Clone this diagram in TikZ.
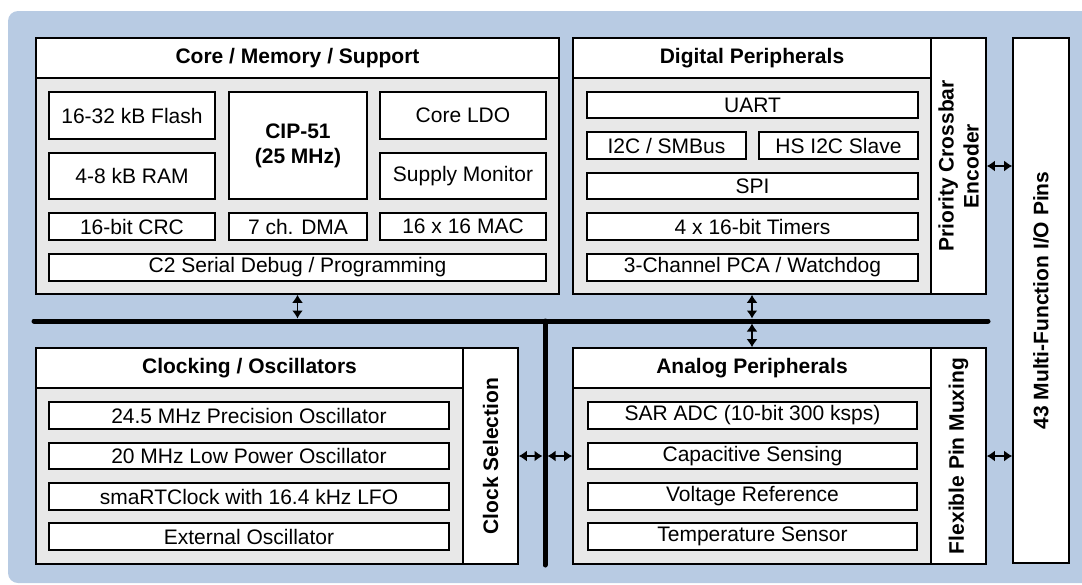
\documentclass[tikz,border=0pt]{standalone}
\usepackage{fontspec}
\setmainfont{Liberation Sans}
\usetikzlibrary{arrows.meta}
\definecolor{bgblue}{RGB}{184,203,227}
\definecolor{panelgrey}{RGB}{232,232,232}
% box from (x1,y1) to (x2,y2), pixel units
\newcommand{\blk}[7]{\node[#1,minimum width={(#5-#3)*1pt},minimum height={(#6-#4)*1pt}] (#2) at ({(#3+#5)/2},{(#4+#6)/2}) {#7};}
\newcommand{\sideblk}[7]{\node[#1,rotate=90,minimum width={(#6-#4)*1pt},minimum height={(#5-#3)*1pt}] (#2) at ({(#3+#5)/2},{(#4+#6)/2}) {#7};}

\begin{document}
\fontsize{21}{25}\selectfont
\begin{tikzpicture}[x=1pt,y=-1pt,
    unit/.style={draw,line width=1.3pt,fill=white,inner sep=0pt,align=center},
    head/.style={unit,line width=1.6pt,font=\bfseries},
    panel/.style={unit,line width=1.6pt,fill=panelgrey},
    dbl/.style={line width=1.5pt,{Latex[length=8pt,width=11pt]}-{Latex[length=8pt,width=11pt]}},
    bus/.style={line width=5pt,line cap=round}]

        \useasboundingbox (0,0) rectangle (1082,584);
        \fill[bgblue,rounded corners=10pt] (8,11) rectangle (1100,583);

        % core / memory / support
        \blk{head}{coreT}{36}{38}{559}{78}{Core / Memory / Support}
        \blk{panel}{coreB}{36}{78}{559}{294}{}
        \blk{unit}{flash}{49}{92}{215}{139}{16-32 kB Flash}
        \blk{unit}{ram}{49}{153}{215}{199}{4-8 kB RAM}
        \blk{unit,font=\bfseries}{cpu}{229}{92}{367}{199}{CIP-51\\(25 MHz)}
        \blk{unit}{ldo}{380}{92}{546}{139}{Core LDO}
        \blk{unit}{supmon}{380}{153}{546}{199}{Supply Monitor}
        \blk{unit}{crc}{49}{213}{215}{240}{16-bit CRC}
        \blk{unit}{dma}{229}{213}{367}{240}{7 ch. DMA}
        \blk{unit}{mac}{380}{213}{546}{240}{16 x 16 MAC}
        \blk{unit}{debug}{49}{254}{546}{281}{C2 Serial Debug / Programming}

        % digital peripherals
        \blk{head}{digT}{573}{38}{931}{78}{Digital Peripherals}
        \blk{panel}{digB}{573}{78}{931}{294}{}
        \sideblk{head}{xbar}{931}{38}{986}{294}{Priority Crossbar\\Encoder}
        \blk{unit}{uart}{587}{92}{918}{118}{UART}
        \blk{unit}{smbus}{587}{132}{746}{159}{I2C / SMBus}
        \blk{unit}{hsi2c}{759}{132}{918}{159}{HS I2C Slave}
        \blk{unit}{spi}{587}{173}{918}{199}{SPI}
        \blk{unit}{timers}{587}{213}{918}{240}{4 x 16-bit Timers}
        \blk{unit}{pca}{587}{254}{918}{281}{3-Channel PCA / Watchdog}

        % pins
        \sideblk{head}{io}{1013}{38}{1069}{563}{43 Multi-Function I/O Pins}

        % clocking / oscillators
        \blk{head}{clkT}{36}{348}{463}{388}{Clocking / Oscillators}
        \blk{panel}{clkB}{36}{388}{463}{564}{}
        \sideblk{head}{clkS}{463}{348}{518}{564}{Clock Selection}
        \blk{unit}{oscA}{49}{402}{449}{429}{24.5 MHz Precision Oscillator}
        \blk{unit}{oscB}{49}{443}{449}{469}{20 MHz Low Power Oscillator}
        \blk{unit}{oscC}{49}{483}{449}{510}{smaRTClock with 16.4 kHz LFO}
        \blk{unit}{oscD}{49}{523}{449}{550}{External Oscillator}

        % analog peripherals
        \blk{head}{anaT}{573}{348}{931}{388}{Analog Peripherals}
        \blk{panel}{anaB}{573}{388}{931}{564}{}
        \sideblk{head}{mux}{931}{348}{986}{564}{Flexible Pin Muxing}
        \blk{unit}{adc}{588}{402}{917}{429}{SAR ADC (10-bit 300 ksps)}
        \blk{unit}{cap}{588}{443}{917}{469}{Capacitive Sensing}
        \blk{unit}{vref}{588}{483}{917}{510}{Voltage Reference}
        \blk{unit}{temp}{588}{523}{917}{550}{Temperature Sensor}

        % bus
        \coordinate (busW) at (34,321); \coordinate (busE) at (988,321);
        \coordinate (busN) at (545,321); \coordinate (busS) at (545,565);
        \draw[bus] (busW) -- (busE);
        \draw[bus] (busN) -- (busS);

        \draw[dbl,shorten >=2.5pt] (coreB.south) -- (coreB.south |- busW);
        \draw[dbl,shorten >=2.5pt] (digB.south) -- (digB.south |- busW);
        \draw[dbl,shorten <=2.5pt] (anaT.north |- busW) -- (anaT.north);
        \draw[dbl,shorten >=2.5pt] (clkS.south) -- (clkS.south -| busN);
        \draw[dbl,shorten <=2.5pt] (busN |- clkS.south) -- (clkS.south -| anaT.west);
        \draw[dbl] (xbar.south) -- (xbar.south -| io.north);
        \draw[dbl] (mux.south) -- (mux.south -| io.north);

      \end{tikzpicture}
\end{document}
